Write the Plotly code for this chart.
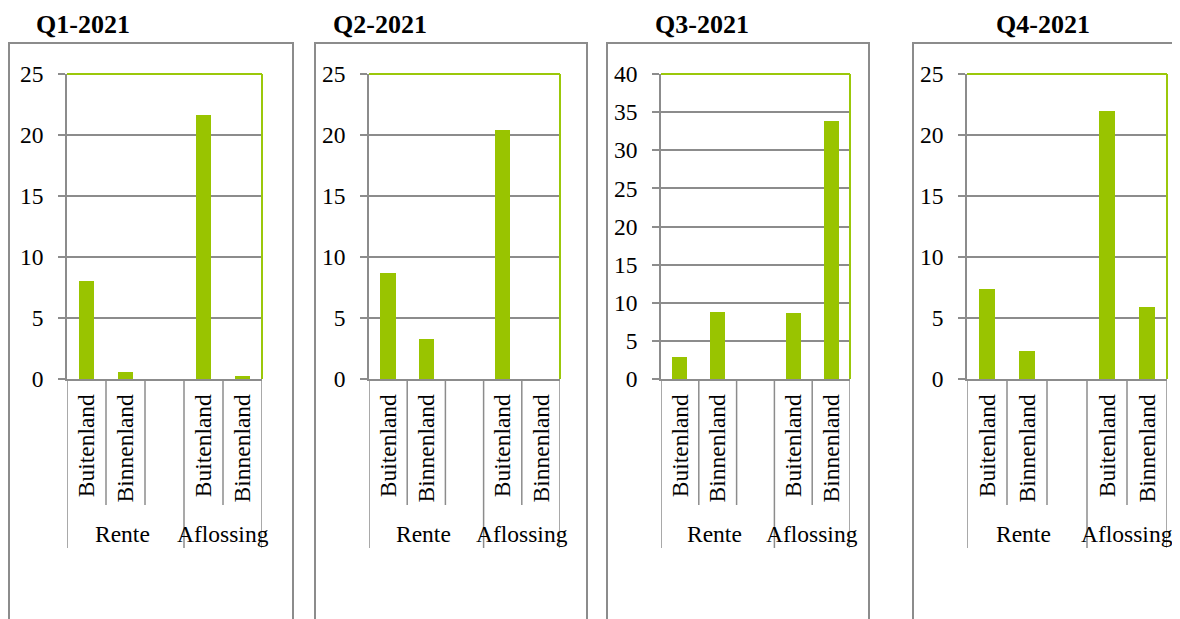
import plotly.graph_objects as go

W, H = 1180, 619

# ---- data ----
quarters = ["Q1-2021", "Q2-2021", "Q3-2021", "Q4-2021"]
subcategories = ["Buitenland", "Binnenland", "", "Buitenland", "Binnenland"]
groups = ["Rente", "Aflossing"]
group_slots = [(0, 3), (3, 5)]
q1_values = [8.0, 0.6, None, 21.6, 0.25]
q2_values = [8.7, 3.3, None, 20.4, 0.0]
q3_values = [2.9, 8.8, None, 8.6, 33.9]
q4_values = [7.4, 2.3, None, 22.0, 5.9]
y_max = [25, 25, 40, 25]
y_step = [5, 5, 5, 5]

series = [q1_values, q2_values, q3_values, q4_values]

# ---- layout (pixel geometry, page coordinates) ----
panels = [
    dict(box=(9, 293), plot=(67, 262), title_x=83),
    dict(box=(315, 587), plot=(369, 560), title_x=380),
    dict(box=(607, 869), plot=(661, 850), title_x=702),
    dict(box=(913, 1179), plot=(967, 1167), title_x=1043),
]
PLOT_TOP, PLOT_BOT = 74, 379
BOX_TOP = 43
SHORT_END, LONG_END = 505, 548
GROUP_LABEL_Y = 534
OFF = 8  # page body margin

BAR = "#99C400"
EDGE = "#9BC80A"
GRID = "#8C8C8C"
FONT = "Liberation Serif"
FS = 23.5


def px(x):
    return (x - OFF) / W


def py(y):
    return 1 - (y - OFF) / H


fig = go.Figure()
shapes = []
annotations = []

n = len(subcategories)
for i, (q, vals, p) in enumerate(zip(quarters, series, panels)):
    k = "" if i == 0 else str(i + 1)
    xa, ya = "x" + k, "y" + k
    xs = [j + 0.5 for j in range(n)]
    fig.add_trace(go.Bar(
        x=xs, y=vals, xaxis=xa, yaxis=ya, width=0.4,
        marker=dict(color=BAR, line=dict(width=0)),
        showlegend=False, hoverinfo="y",
    ))
    x0, x1 = p["plot"]
    fig.layout["xaxis" + k] = dict(
        domain=[px(x0), px(x1)], anchor=ya, range=[0, n],
        tickmode="array",
        tickvals=[j + 0.5 for j, s in enumerate(subcategories) if s],
        ticktext=[s for s in subcategories if s],
        tickangle=-90, ticks="", showgrid=False, zeroline=False,
        showline=True, linecolor=GRID, linewidth=1.5,
        tickfont=dict(family=FONT, size=FS, color="black"),
        ticklabelstandoff=4, fixedrange=True, automargin=False,
    )
    fig.layout["yaxis" + k] = dict(
        domain=[py(PLOT_BOT), py(PLOT_TOP)], anchor=xa,
        range=[0, y_max[i]], dtick=y_step[i], tick0=0,
        showgrid=True, gridcolor=GRID, gridwidth=1.5,
        ticks="outside", ticklen=7, tickcolor=GRID, tickwidth=1.5,
        showline=True, linecolor=GRID, linewidth=1.5, zeroline=False,
        tickfont=dict(family=FONT, size=FS, color="black"),
        ticklabelstandoff=10, fixedrange=True, automargin=False,
    )
    # outer chart box
    b0, b1 = p["box"]
    shapes.append(dict(type="rect", xref="paper", yref="paper",
                       x0=px(b0), x1=px(b1), y0=py(BOX_TOP), y1=-0.2,
                       line=dict(color=GRID, width=2), layer="below"))
    # green plot-area border (top + right)
    shapes.append(dict(type="line", xref="paper", yref="paper",
                       x0=px(x0), x1=px(x1), y0=py(PLOT_TOP), y1=py(PLOT_TOP),
                       line=dict(color=EDGE, width=2)))
    shapes.append(dict(type="line", xref="paper", yref="paper",
                       x0=px(x1), x1=px(x1), y0=py(PLOT_TOP), y1=py(PLOT_BOT),
                       line=dict(color=EDGE, width=2)))
    # category separators
    group_edges = {g for gs in group_slots for g in gs}
    for j in range(n + 1):
        end = LONG_END if j in group_edges else SHORT_END
        shapes.append(dict(type="line", xref=xa, yref="paper",
                           x0=j, x1=j, y0=py(PLOT_BOT), y1=py(end),
                           line=dict(color=GRID, width=1.5)))
    # group labels
    for g, (s0, s1) in zip(groups, group_slots):
        cx = (s0 + s1) / 2 if s1 - s0 == 2 else 1.42
        annotations.append(dict(text=g, xref=xa, yref="paper", x=cx, y=py(GROUP_LABEL_Y),
                                showarrow=False, xanchor="center", yanchor="middle",
                                font=dict(family=FONT, size=FS, color="black")))
    # title
    annotations.append(dict(text="<b>" + q + "</b>", xref="paper", yref="paper",
                            x=px(p["title_x"]), y=py(25), showarrow=False,
                            xanchor="center", yanchor="middle",
                            font=dict(family=FONT, size=26, color="black")))

fig.update_layout(
    width=W, height=H,
    margin=dict(l=0, r=0, t=0, b=0, pad=0, autoexpand=False),
    paper_bgcolor="white", plot_bgcolor="white",
    shapes=shapes, annotations=annotations, bargap=0,
)
fig.write_html("out.html")
